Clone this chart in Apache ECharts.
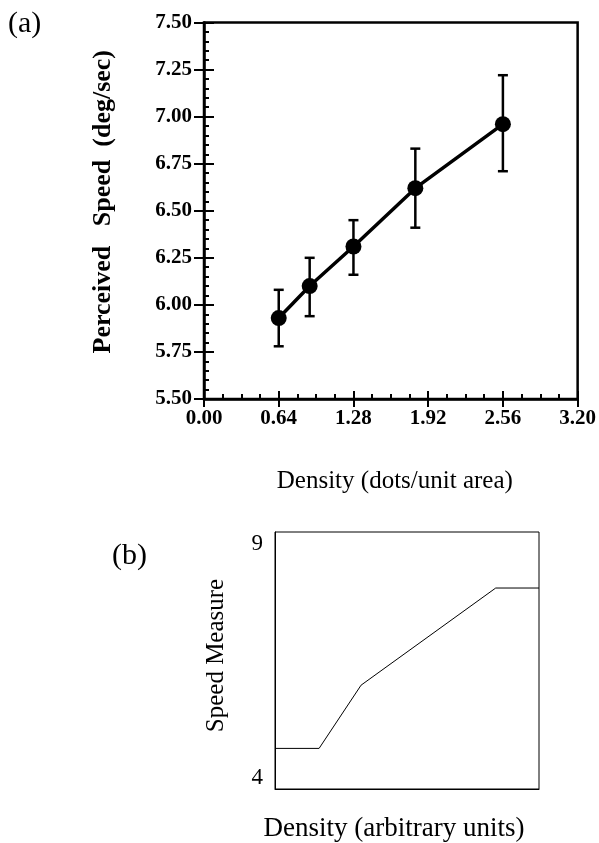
<!DOCTYPE html>
<html>
<head>
<meta charset="utf-8">
<script src="https://cdn.jsdelivr.net/npm/echarts@6/dist/echarts.min.js"></script>
<style>html,body{margin:0;padding:0;background:#fff}#c{width:599px;height:843px}</style>
</head>
<body>
<div id="c"></div>
<script>
// Panel (a) data
const densities = [0.64, 0.905, 1.28, 1.81, 2.56];
const speeds    = [5.93, 6.10, 6.31, 6.62, 6.96];
const errLow    = [5.78, 5.94, 6.16, 6.41, 6.71];
const errHigh   = [6.08, 6.25, 6.45, 6.83, 7.22];
const xTicksA   = [0.00, 0.64, 1.28, 1.92, 2.56, 3.20];
const yTicksA   = [5.50, 5.75, 6.00, 6.25, 6.50, 6.75, 7.00, 7.25, 7.50];
// Panel (b) data (schematic)
const densityB  = [0, 1.67, 3.26, 8.36, 10];
const speedB    = [4.79, 4.79, 6.02, 7.91, 7.91];
const yTicksB   = [4, 9];

const serif = '"Liberation Serif", "DejaVu Serif", serif';
const chart = echarts.init(document.getElementById('c'), null, {renderer: 'canvas'});

const xA = {min: xTicksA[0], max: xTicksA[xTicksA.length-1], interval: xTicksA[1]-xTicksA[0]};
const yA = {min: yTicksA[0], max: yTicksA[yTicksA.length-1], interval: yTicksA[1]-yTicksA[0]};

const option = {
  animation: false,
  grid: [
    {left: 204, top: 22.5, width: 375, height: 376.5, show: true, borderColor: '#000', borderWidth: 2.5, backgroundColor: 'transparent'},
    {left: 275, top: 532, width: 264, height: 258, show: true, borderColor: '#000', borderWidth: 1, backgroundColor: 'transparent'}
  ],
  xAxis: [
    {gridIndex: 0, type: 'value', position: 'bottom', min: xA.min, max: xA.max, interval: xA.interval,
     axisLine: {show: true, onZero: false, lineStyle: {color: '#000', width: 2.5}},
     axisTick: {show: true, inside: true, length: 8, lineStyle: {color: '#000', width: 2}},
     minorTick: {show: true, splitNumber: 4, length: 5, lineStyle: {color: '#000', width: 2}},
     splitLine: {show: false},
     axisLabel: {show: true, margin: 9, color: '#000', fontFamily: serif, fontWeight: 'bold', fontSize: 21,
                 formatter: v => v.toFixed(2)},
     name: 'Density (dots/unit area)', nameLocation: 'middle', nameGap: 70,
     nameTextStyle: {color: '#000', fontFamily: serif, fontSize: 25, padding: [0, 0, 0, 8]}},
    {gridIndex: 0, type: 'value', position: 'bottom', min: xA.min, max: xA.max, interval: xA.interval,
     axisLine: {show: false}, axisTick: {show: true, inside: false, length: 8, lineStyle: {color: '#000', width: 2}},
     axisLabel: {show: false}, splitLine: {show: false}},
    {gridIndex: 1, type: 'value', min: densityB[0], max: densityB[densityB.length-1],
     axisLine: {show: true, onZero: false, lineStyle: {color: '#000', width: 1}},
     axisTick: {show: false}, axisLabel: {show: false}, splitLine: {show: false},
     name: 'Density (arbitrary units)', nameLocation: 'middle', nameGap: 26,
     nameTextStyle: {color: '#000', fontFamily: serif, fontSize: 27, padding: [0, 26, 0, 0]}}
  ],
  yAxis: [
    {gridIndex: 0, type: 'value', position: 'left', min: yA.min, max: yA.max, interval: yA.interval,
     axisLine: {show: true, onZero: false, lineStyle: {color: '#000', width: 2.5}},
     axisTick: {show: true, inside: true, length: 10, lineStyle: {color: '#000', width: 2}},
     minorTick: {show: true, splitNumber: 5, length: 5, lineStyle: {color: '#000', width: 2}},
     splitLine: {show: false},
     axisLabel: {show: true, margin: 12, color: '#000', fontFamily: serif, fontWeight: 'bold', fontSize: 21,
                 formatter: v => v.toFixed(2)},
     name: 'Perceived   Speed  (deg/sec)', nameLocation: 'middle', nameGap: 88,
     nameTextStyle: {color: '#000', fontFamily: serif, fontWeight: 'bold', fontSize: 26, padding: [0, 0, 0, 18]}},
    {gridIndex: 0, type: 'value', position: 'left', min: yA.min, max: yA.max, interval: yA.interval,
     axisLine: {show: false}, axisTick: {show: true, inside: false, length: 10, lineStyle: {color: '#000', width: 2}},
     axisLabel: {show: false}, splitLine: {show: false}},
    {gridIndex: 1, type: 'value', min: yTicksB[0], max: yTicksB[1], interval: yTicksB[1]-yTicksB[0],
     axisLine: {show: true, onZero: false, lineStyle: {color: '#000', width: 1}},
     axisTick: {show: false}, splitLine: {show: false},
     axisLabel: {show: true, margin: 12, color: '#000', fontFamily: serif, fontSize: 23,
                 verticalAlignMaxLabel: 'top', verticalAlignMinLabel: 'bottom'},
     name: 'Speed Measure', nameLocation: 'middle', nameGap: 46,
     nameTextStyle: {color: '#000', fontFamily: serif, fontSize: 25, padding: [0, 0, 0, 10]}}
  ],
  graphic: [
    {type: 'text', left: 8, top: 9, style: {text: '(a)', font: '30px ' + serif, fill: '#000'}},
    {type: 'text', left: 112, top: 541, style: {text: '(b)', font: '30px ' + serif, fill: '#000'}}
  ],
  series: [
    {type: 'custom', xAxisIndex: 0, yAxisIndex: 0,
     data: densities.map((d, i) => [d, errLow[i], errHigh[i]]),
     renderItem: function (params, api) {
       const x = api.value(0);
       const top = api.coord([x, api.value(2)]);
       const bot = api.coord([x, api.value(1)]);
       const hw = 5;
       const st = {stroke: '#000', lineWidth: 2.5};
       return {type: 'group', children: [
         {type: 'line', shape: {x1: top[0], y1: top[1], x2: bot[0], y2: bot[1]}, style: st},
         {type: 'line', shape: {x1: top[0]-hw, y1: top[1], x2: top[0]+hw, y2: top[1]}, style: st},
         {type: 'line', shape: {x1: bot[0]-hw, y1: bot[1], x2: bot[0]+hw, y2: bot[1]}, style: st}
       ]};
     }, z: 2},
    {type: 'line', xAxisIndex: 0, yAxisIndex: 0,
     data: densities.map((d, i) => [d, speeds[i]]),
     symbol: 'circle', symbolSize: 16, itemStyle: {color: '#000'},
     lineStyle: {color: '#000', width: 3.5}, z: 3},
    {type: 'line', xAxisIndex: 2, yAxisIndex: 2,
     data: densityB.map((d, i) => [d, speedB[i]]),
     symbol: 'none', lineStyle: {color: '#000', width: 1}}
  ]
};
chart.setOption(option);
</script>
</body>
</html>
